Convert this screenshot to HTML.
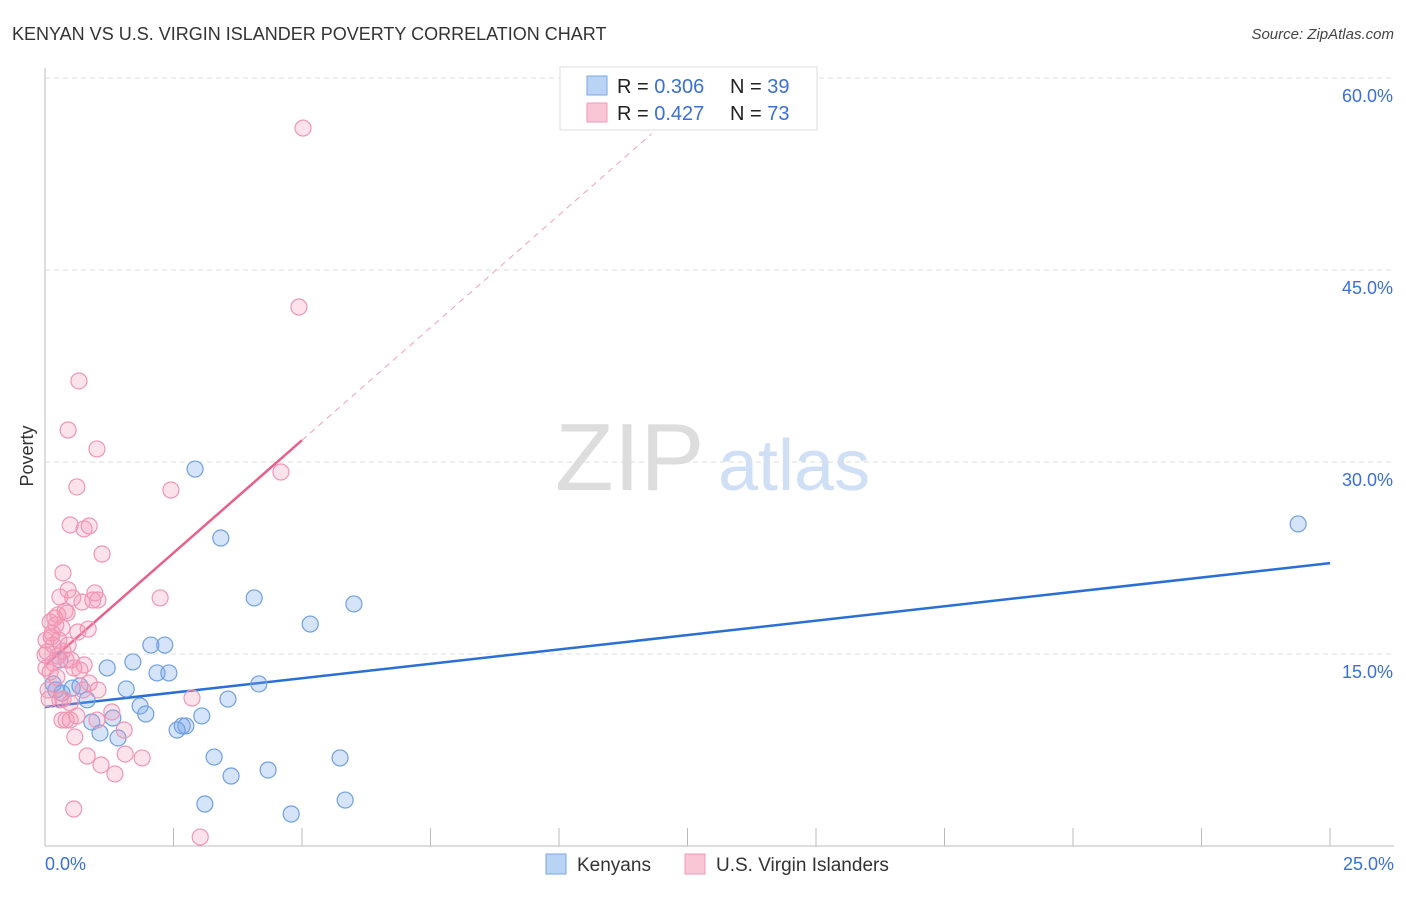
<!DOCTYPE html>
<html><head><meta charset="utf-8"><style>
body{margin:0;background:#fff;font-family:"Liberation Sans",sans-serif}
svg text{font-family:"Liberation Sans",sans-serif}
</style></head><body>
<svg id="chart" width="1406" height="892" xmlns="http://www.w3.org/2000/svg">
<text x="12" y="40" font-size="18" fill="#333">KENYAN VS U.S. VIRGIN ISLANDER POVERTY CORRELATION CHART</text>
<text x="1394" y="39" font-size="15" fill="#444" font-style="italic" text-anchor="end">Source: ZipAtlas.com</text>
<g>
<text x="555" y="490" font-size="96" fill="#ddd" font-family="Liberation Serif,serif">ZIP</text>
<text x="718" y="490" font-size="72" fill="#cfdff5">atlas</text>
</g>
<g id="grid"></g><g id="axes"></g><g id="lines"></g><g id="pts"></g>
<text x="33" y="456" font-size="18" fill="#333" transform="rotate(-90 33 456)" text-anchor="middle">Poverty</text>
<g>
<rect x="560" y="67" width="257" height="63" fill="#fff" stroke="#ddd"/>
<rect x="587" y="76" width="20" height="19" fill="#b9d3f5" stroke="#7aa6e6"/>
<rect x="587" y="103" width="20" height="19" fill="#f9c6d6" stroke="#f09ab6"/>
<text x="617" y="93" font-size="20" fill="#222">R = <tspan fill="#3a6fd8">0.306</tspan></text>
<text x="730" y="93" font-size="20" fill="#222">N = <tspan fill="#3a6fd8">39</tspan></text>
<text x="617" y="120" font-size="20" fill="#222">R =  <tspan fill="#3a6fd8">0.427</tspan></text>
<text x="730" y="120" font-size="20" fill="#222">N = <tspan fill="#3a6fd8">73</tspan></text>
</g>
<g>
<rect x="546" y="854" width="20" height="20" fill="#b9d3f5" stroke="#7aa6e6"/>
<text x="577" y="871" font-size="19" fill="#333">Kenyans</text>
<rect x="685" y="854" width="20" height="20" fill="#f9c6d6" stroke="#f09ab6"/>
<text x="716" y="871" font-size="19" fill="#333">U.S. Virgin Islanders</text>
</g>
</svg>
<script>
const yTicks=[15,30,45,60];
const xTicks=[0,2.5,5,7.5,10,12.5,15,17.5,20,22.5,25];
const blueX=[24.38,2.92,3.42,4.07,6.01,5.16,2.06,2.33,1.21,1.71,2.18,2.41,1.58,4.16,3.56,0.82,0.53,0.16,0.21,0.33,0.68,1.85,1.96,1.32,0.91,1.07,1.42,2.67,2.74,2.57,3.05,3.29,3.62,4.34,5.74,3.11,4.79,5.84,0.29];
const blueY=[25.16,29.45,24.06,19.38,18.91,17.34,15.7,15.7,13.91,14.38,13.52,13.52,12.27,12.66,11.48,11.41,12.34,12.66,12.19,11.95,12.5,10.94,10.31,10.0,9.69,8.83,8.44,9.38,9.38,9.06,10.16,6.95,5.47,5.94,6.88,3.28,2.5,3.59,14.53];
const pinkX=[5.02,4.94,0.66,0.45,1.01,0.62,2.45,4.59,0.49,0.86,0.76,1.11,0.35,0.45,0.97,0.29,0.54,1.03,0.72,0.43,0.1,0.21,0.33,0.84,0.14,0.02,0.27,0.45,0.04,0.25,0.16,0.76,0.68,0.56,0.86,1.03,0.35,0.49,0.08,0.62,1.3,0.41,0.33,1.01,1.54,0.58,0.82,1.89,1.56,1.09,1.36,0.56,3.02,2.24,2.86,0.02,0.12,0.19,0.35,0.51,0.06,0.23,0,0.39,0.64,0.16,0.29,0.74,0.49,0.1,0.41,0.93,0.25];
const pinkY=[56.09,42.11,36.33,32.5,31.02,28.05,27.81,29.22,25.08,25.0,24.77,22.81,21.33,20.0,19.77,19.45,19.38,19.22,19.06,18.2,17.5,17.27,17.03,16.95,16.64,16.09,16.09,15.7,15.16,14.84,14.3,14.14,13.75,13.91,12.73,12.19,11.48,11.17,11.48,10.16,10.47,9.84,9.84,9.84,9.06,8.52,7.03,6.88,7.19,6.33,5.63,2.89,0.7,19.38,11.56,13.91,16.33,17.81,15.23,14.53,12.19,13.2,14.92,18.36,16.72,15.7,11.41,12.19,9.84,13.59,14.53,19.22,18.05];
const blueFit=[10.86,22.1];
const pinkFit=[14.1,3.52];
const NS="http://www.w3.org/2000/svg";
const sx=v=>45+v*51.4, sy=v=>846-v*12.8;
function mk(t,a,p){const e=document.createElementNS(NS,t);for(const k in a)e.setAttribute(k,a[k]);document.getElementById(p).appendChild(e);return e;}
yTicks.forEach(t=>{
 const l=mk('line',{x1:45,x2:1394,y1:sy(t),y2:sy(t),stroke:'#ddd','stroke-dasharray':'5,4'},'grid');
 
 
 const tx=mk('text',{x:1393,y:sy(t)+24,'font-size':18,fill:'#3a6fd8','text-anchor':'end'},'axes');
 tx.textContent=t.toFixed(1)+'%';
 
 
});
mk('line',{x1:45,x2:45,y1:68,y2:846,stroke:'#bbb'},'axes');
mk('line',{x1:45,x2:1394,y1:846,y2:846,stroke:'#bbb'},'axes');
xTicks.forEach(t=>{
 const l=mk('line',{x1:sx(t),x2:sx(t),y1:828,y2:846,stroke:'#bbb'},'axes');
 
 
});
[[0,'start',45],[25,'end',1394]].forEach(([v,a,x])=>{
 const tx=mk('text',{x:x,y:870,'font-size':18,fill:'#3a6fd8','text-anchor':a},'axes');
 tx.textContent=v.toFixed(1)+'%';
 
 
});
const bl=mk('line',{x1:sx(0),y1:sy(blueFit[0]),x2:sx(25),y2:sy(blueFit[1]),stroke:'#2a6fd6','stroke-width':2.5},'lines');


const pf=x=>pinkFit[0]+pinkFit[1]*x;
const pl=mk('line',{x1:sx(0),y1:sy(pf(0)),x2:sx(5),y2:sy(pf(5)),stroke:'#e8608a','stroke-width':2.5},'lines');


const pd=mk('line',{x1:sx(5),y1:sy(pf(5)),x2:sx(11.8),y2:sy(pf(11.8)),stroke:'#f0a0b8','stroke-width':1,'stroke-dasharray':'6,5'},'lines');


blueX.forEach((x,i)=>{
 const c=mk('circle',{cx:sx(x),cy:sy(blueY[i]),r:8,fill:'rgba(120,165,235,0.3)',stroke:'#6f9fe3','stroke-width':1.2},'pts');
 
 
});
pinkX.forEach((x,i)=>{
 const c=mk('circle',{cx:sx(x),cy:sy(pinkY[i]),r:8,fill:'rgba(245,150,180,0.28)',stroke:'#f095b4','stroke-width':1.2},'pts');
 
 
});
</script>
</body></html>
